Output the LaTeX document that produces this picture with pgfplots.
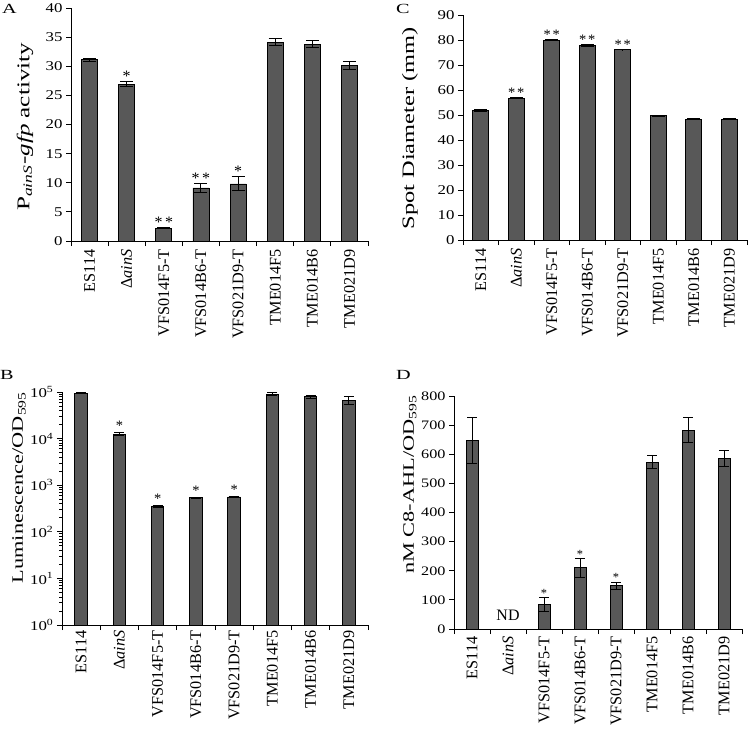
\documentclass[border=0pt]{standalone}
\usepackage{fontspec}
\setmainfont{Liberation Serif}
\usepackage{graphicx}
\usepackage{pgfplots}
\pgfplotsset{compat=1.18}
\definecolor{barg}{RGB}{88,88,88}
\newcommand{\fs}[1]{\fontsize{#1}{#1}\selectfont}
\newcommand{\yl}[1]{\scalebox{1.25}[1]{#1}}
\pgfplotsset{
  panel/.style={
    scale only axis,
    axis lines*=left,
    axis line style={black, line width=0.9bp},
    tick align=outside,
    major tick length=5bp,
    tick style={black, line width=0.9bp},
    xmin=-0.5, xmax=7.5,
    xtick={-0.5,0.5,...,7.5},
    xticklabels={},
    extra x ticks={0,1,2,3,4,5,6,7},
    extra x tick labels={ES114,Δ\textit{ainS},VFS014F5-T,VFS014B6-T,VFS021D9-T,TME014F5,TME014B6,TME021D9},
    extra x tick style={major tick length=0pt},
    xticklabel style={rotate=90, anchor=east, font=\fs{16.3}},
    xticklabel shift=5bp,
    /pgf/number format/assume math mode=true,
    yticklabel style={font=\fs{13.5}},
    clip=false,
  },
  bars/.style={ybar, bar width=#1, bar shift=0pt, fill=barg, draw=black, line width=0.8bp},
  errs/.style={error bars/.cd, y dir=both, y explicit,
    error bar style={black, line width=1bp},
    error mark options={rotate=90, mark size=#1, line width=1bp, black}},
}
\begin{document}
\begin{tikzpicture}
\path[use as bounding box] (0,0) rectangle (750bp,-731bp);
% Panel letters
\node[anchor=north west, inner sep=0pt] at (2bp,-4bp) {\scalebox{1.45}[1]{\fs{14}A}};
\node[anchor=north west, inner sep=0pt] at (396bp,-4bp) {\scalebox{1.45}[1]{\fs{14}C}};
\node[anchor=north west, inner sep=0pt] at (0bp,-370bp) {\scalebox{1.45}[1]{\fs{14}B}};
\node[anchor=north west, inner sep=0pt] at (396bp,-370bp) {\scalebox{1.45}[1]{\fs{14}D}};

% ---------------- A
\begin{axis}[panel, at={(71bp,-241bp)}, anchor=south west, width=297bp, height=233bp,
  ymin=0, ymax=40, ytick={0,5,...,40},
  yticklabel={\yl{\pgfmathprintnumber{\tick}}},
  ylabel={\scalebox{1.4}[1]{\fs{18}P\textsubscript{\textit{ainS}}-\textit{gfp} activity}},
  ylabel style={at={(axis description cs:-0.155,0.49)}, anchor=center},
]
\addplot[bars=16bp, errs=6.5bp] table[x=x, y=y, y error=e] {
x y e
0 31.1 0.3
1 26.9 0.45
2 2.2 0.1
3 9.1 0.7
4 9.8 1.2
5 34.1 0.6
6 33.8 0.6
7 30.1 0.65
};
\addplot[draw=none, mark=none, nodes near coords, point meta=explicit symbolic,
  nodes near coords style={anchor=south, inner sep=0pt, font=\fs{16}}]
  coordinates {(1,27.35) [*] (2,2.3) [*\kern2.5bp*] (3,9.8) [*\kern2.5bp*] (4,11.0) [*]};
\end{axis}

% ---------------- C
\begin{axis}[panel, at={(463bp,-240bp)}, anchor=south west, width=284bp, height=225bp,
  ymin=0, ymax=90, ytick={0,10,...,90},
  yticklabel={\yl{\pgfmathprintnumber{\tick}}},
  ylabel={\scalebox{1.4}[1]{\fs{17.5}Spot Diameter (mm)}},
  ylabel style={at={(axis description cs:-0.187,0.496)}, anchor=center},
]
\addplot[bars=16bp, errs=6.5bp] table[x=x, y=y, y error=e] {
x y e
0 52.0 0.4
1 56.7 0.2
2 80.0 0.2
3 77.8 0.5
4 76.2 0.1
5 49.7 0.2
6 48.4 0.15
7 48.4 0.15
};
\addplot[draw=none, mark=none, nodes near coords, point meta=explicit symbolic,
  nodes near coords style={anchor=south, inner sep=0pt, font=\fs{14.5}}]
  coordinates {(1,56.9) [*\kern2bp*] (2,80.2) [*\kern2bp*] (3,78.3) [*\kern2bp*] (4,76.3) [*\kern2bp*]};
\end{axis}

% ---------------- B
\begin{axis}[panel, at={(62bp,-625bp)}, anchor=south west, width=306bp, height=233bp,
  ymode=log, ymin=1, ymax=100000, log origin y=0,
  ytick={1,10,100,1000,10000,100000},
  yticklabels={\yl{10\textsuperscript{0}},\yl{10\textsuperscript{1}},\yl{10\textsuperscript{2}},\yl{10\textsuperscript{3}},\yl{10\textsuperscript{4}},\yl{10\textsuperscript{5}}},
  ylabel={\scalebox{1.4}[1]{\fs{16}Luminescence/OD\textsubscript{595}}},
  ylabel style={at={(axis description cs:-0.1405,0.59)}, anchor=center},
  xticklabel shift=2bp,
]
\addplot[bars=12.5bp, errs=5bp] table[x=x, y=y, y error=e] {
x y e
0 95000 2000
1 12500 1000
2 350 10
3 535 10
4 560 10
5 90000 7000
6 80000 6000
7 67000 13000
};
\addplot[draw=none, mark=none, nodes near coords, point meta=explicit symbolic,
  nodes near coords style={anchor=south, inner sep=0pt, yshift=2bp, font=\fs{14.5}}]
  coordinates {(1,13500) [*] (2,360) [*] (3,545) [*] (4,570) [*]};
\end{axis}

% ---------------- D
\begin{axis}[panel, at={(454bp,-629bp)}, anchor=south west, width=288bp, height=233bp,
  ymin=0, ymax=800, ytick={0,100,...,800},
  yticklabel style={font=\fs{13}},
  yticklabel={\yl{\pgfmathprintnumber{\tick}}},
  ylabel={\scalebox{1.4}[1]{\fs{16}nM C8-AHL/OD\textsubscript{595}}},
  ylabel style={at={(axis description cs:-0.153,0.62)}, anchor=center},
  xticklabel shift=4bp,
]
\addplot[bars=12bp, errs=5bp] table[x=x, y=y, y error=e] {
x y e
0 646 79
2 84 24
3 210 33
4 149 12
5 573 23
6 683 42
7 585 27
};
\addplot[draw=none, mark=none, nodes near coords, point meta=explicit symbolic,
  nodes near coords style={anchor=south, inner sep=0pt, font=\fs{12.5}}]
  coordinates {(2,108) [*] (3,243) [*] (4,161) [*]};
\addplot[draw=none, mark=none, nodes near coords, point meta=explicit symbolic,
  nodes near coords style={anchor=south, inner sep=0pt, yshift=8bp, font=\fs{16}}]
  coordinates {(1,0) [ND]};
\end{axis}
\end{tikzpicture}
\end{document}
